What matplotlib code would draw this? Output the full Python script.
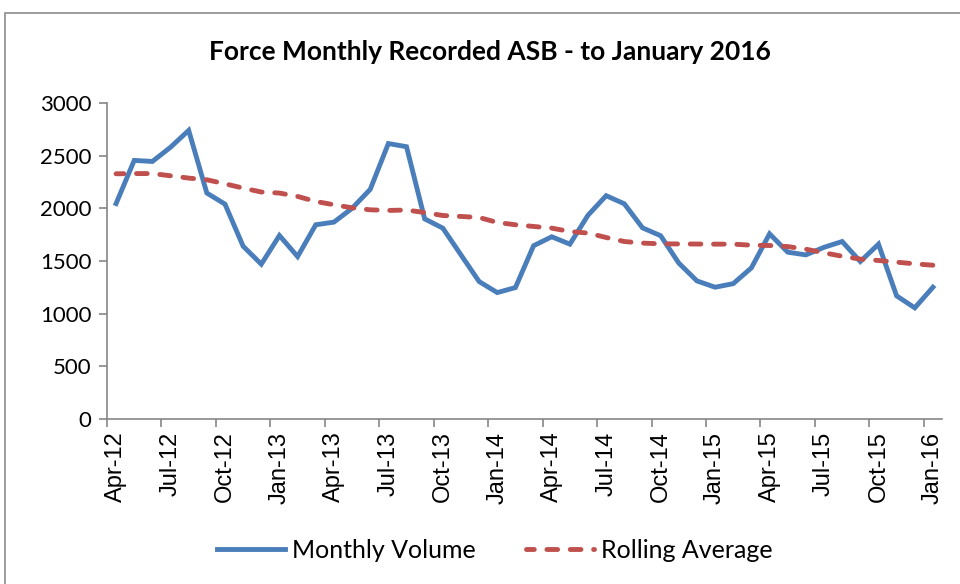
import matplotlib.pyplot as plt
from matplotlib.patches import Rectangle

# monthly data, Apr-12 .. Jan-16
months = ['Apr-12', 'May-12', 'Jun-12', 'Jul-12', 'Aug-12', 'Sep-12', 'Oct-12', 'Nov-12',
          'Dec-12', 'Jan-13', 'Feb-13', 'Mar-13', 'Apr-13', 'May-13', 'Jun-13', 'Jul-13',
          'Aug-13', 'Sep-13', 'Oct-13', 'Nov-13', 'Dec-13', 'Jan-14', 'Feb-14', 'Mar-14',
          'Apr-14', 'May-14', 'Jun-14', 'Jul-14', 'Aug-14', 'Sep-14', 'Oct-14', 'Nov-14',
          'Dec-14', 'Jan-15', 'Feb-15', 'Mar-15', 'Apr-15', 'May-15', 'Jun-15', 'Jul-15',
          'Aug-15', 'Sep-15', 'Oct-15', 'Nov-15', 'Dec-15', 'Jan-16']

monthly_volume = [2045, 2455, 2445, 2580, 2740, 2145, 2040, 1640, 1470, 1742, 1542, 1844,
                  1869, 2000, 2180, 2615, 2585, 1900, 1812, 1558, 1305, 1200, 1248, 1645,
                  1730, 1660, 1935, 2120, 2043, 1815, 1740, 1480, 1311, 1251, 1285, 1435,
                  1758, 1584, 1558, 1630, 1685, 1495, 1660, 1169, 1055, 1251]

rolling_avg = [2328, 2330, 2330, 2309, 2287, 2271, 2233, 2192, 2155, 2145, 2113, 2065,
               2034, 2005, 1986, 1980, 1984, 1960, 1932, 1923, 1913, 1866, 1844, 1828,
               1812, 1780, 1765, 1723, 1685, 1670, 1663, 1662, 1661, 1660, 1660, 1650,
               1647, 1637, 1612, 1578, 1545, 1518, 1505, 1489, 1473, 1460]

x = list(range(len(months)))

fig = plt.figure(figsize=(9.6, 5.84), dpi=100)
# outer chart border (only left and top edges are visible)
fig.patches.append(Rectangle((5 / 960, -0.1), 1.1, 0.1 + 1 - 13 / 584, transform=fig.transFigure,
                             fill=False, edgecolor='#8c8c8c', linewidth=1.2))

ax = fig.add_axes([107 / 960, 1 - 419 / 584, (942 - 107) / 960, (419 - 103) / 584])
ax.plot(x, monthly_volume, color='#4a7ebb', lw=3.5, label='Monthly Volume', solid_joinstyle='miter')
ax.plot(x, rolling_avg, color='#c0504d', lw=3.5, ls=(0.6, (2.2, 2.6)), dash_capstyle='round',
        label='Rolling Average')

ax.set_xlim(-0.5, len(months) - 0.5)
ax.set_ylim(0, 3000)
ax.set_yticks(range(0, 3001, 500))
ax.set_xticks(x[::3])
ax.set_xticklabels(months[::3], rotation=90, fontsize=17, family='Liberation Sans')
ax.set_xticks([i - 0.5 for i in x[::3]], minor=True)
ax.tick_params(axis='x', which='major', length=0, pad=9)
ax.tick_params(axis='x', which='minor', length=6, color='#868686', width=1.2)
ax.tick_params(axis='y', length=6, color='#868686', width=1.2, labelsize=16, pad=5)
for lab in ax.get_yticklabels():
    lab.set_family('Lato')
for s in ['top', 'right']:
    ax.spines[s].set_visible(False)
for s in ['left', 'bottom']:
    ax.spines[s].set_color('#868686')
    ax.spines[s].set_linewidth(1.2)

fig.text(490 / 960, 1 - 52 / 584, 'Force Monthly Recorded ASB - to January 2016', ha='center',
         va='center', fontsize=19, fontweight='bold', family='Lato')

fig.legend(loc='center', bbox_to_anchor=(495 / 960, 1 - 550 / 584), ncol=2, frameon=False,
           prop={'family': 'Lato', 'size': 18}, handlelength=2.7, columnspacing=2.0,
           handletextpad=0.3)

fig.savefig('out.png', dpi=100)
